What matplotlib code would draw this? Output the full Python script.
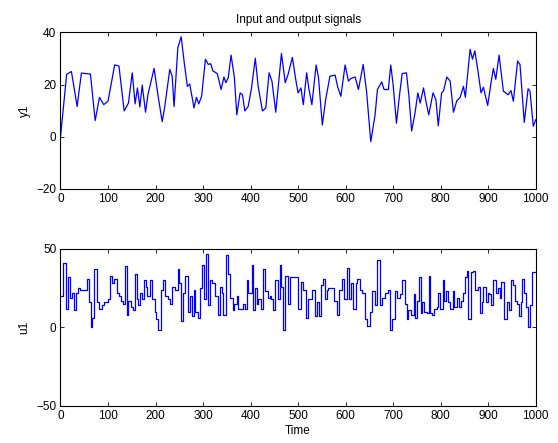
import matplotlib
matplotlib.use("Agg")
import matplotlib.pyplot as plt

plt.rcParams["font.family"] = ["Liberation Sans", "DejaVu Sans"]
plt.rcParams["font.size"] = 8

# output signal y1 (time, value)
y_t = [0, 13, 23, 35, 44, 63, 73, 82, 91, 100, 114, 123, 134, 143, 151, 157,
       162, 167, 172, 179, 184, 197, 205, 214, 219, 230, 235, 239, 247, 254,
       260, 267, 272, 281, 286, 291, 297, 305, 311, 316, 321, 330, 338, 344,
       348, 353, 359, 366, 371, 378, 383, 388, 395, 402, 410, 416, 425, 432,
       439, 445, 453, 465, 473, 479, 488, 495, 500, 506, 511, 518, 523, 529,
       538, 543, 551, 558, 567, 578, 583, 590, 599, 606, 611, 620, 627, 637,
       644, 653, 662, 667, 676, 681, 690, 695, 700, 707, 714, 719, 728, 733,
       739, 746, 752, 757, 764, 769, 775, 784, 790, 795, 802, 806, 813, 820,
       827, 834, 841, 848, 852, 862, 867, 872, 878, 885, 890, 899, 906, 911,
       916, 923, 932, 942, 948, 953, 962, 967, 976, 984, 988, 995, 1000]
y_v = [0, 23.9, 25, 11.6, 24.4, 24, 6.2, 15.1, 12.3, 13.6, 27.5, 27.1, 9.9,
       12.9, 24.5, 12.6, 18.7, 11.4, 19.8, 9.4, 16.1, 26.2, 16.1, 5.8, 11,
       25.8, 23.2, 11.6, 34.2, 38.3, 29, 19.3, 20.2, 11, 15.1, 12.6, 15.5,
       29.7, 27.7, 28, 25.2, 24.2, 18.1, 22.9, 20.7, 22.6, 31.3, 22.6, 8.4,
       16.8, 16.1, 9.9, 11.6, 18.7, 30.1, 19.3, 9.9, 11, 24.5, 21.3, 9.4,
       31.9, 20.7, 23.9, 30.4, 22, 16.8, 18.7, 12.3, 24.5, 18.1, 12.3, 27.5,
       22.6, 4.5, 14.2, 23.2, 23.6, 19.3, 15.5, 27.5, 21.3, 22.3, 22.9, 18.1,
       27.7, 17.5, -1.9, 8.4, 18.1, 21, 18.1, 18.1, 27.5, 20, 5.2, 16.8, 24.2,
       24.5, 16.1, 2.2, 9, 16.8, 12.9, 18.7, 13.6, 8.4, 16.8, 14.2, 4.2, 16.8,
       17.5, 22.9, 21.3, 9.4, 13.8, 15.1, 19.3, 15.1, 33.5, 29.7, 32.9, 25.8,
       16.8, 19, 12, 20.7, 26.2, 22, 31.3, 17.5, 16.1, 17.7, 13.6, 29, 27.7,
       5.5, 18.4, 17.5, 4, 6.5]

# input signal u1, piecewise constant: switch times and held values
u_t = [0, 6, 11, 15, 19, 24, 28, 32, 36, 41, 55, 60, 64, 67, 71, 76, 80, 87,
       92, 99, 104, 109, 113, 118, 123, 127, 132, 136, 139, 143, 148, 153,
       157, 160, 164, 168, 172, 176, 179, 183, 188, 192, 198, 202, 206, 212,
       216, 220, 226, 230, 235,
       241, 247, 249, 254, 258, 263, 268, 273, 276, 280, 284, 289, 294, 297,
       303, 306, 310, 315, 318, 325, 331, 336, 339, 343, 348, 352, 357, 362,
       366, 371, 374, 385, 388, 392, 395, 402, 406, 409, 413, 416, 423, 427,
       430, 436, 441, 444, 448, 451, 457, 462, 465, 469, 472, 478, 483,
       488, 499, 506, 511, 516, 520, 530, 536, 539, 544, 548, 553, 557, 560,
       564, 576, 581, 586, 592, 597, 602, 607, 611, 616, 621, 625, 630, 635,
       641, 646, 651, 656, 662, 667, 672, 677, 682, 689, 693, 698, 703, 708,
       714, 719, 724, 729, 732, 738, 743,
       747, 750, 754, 759, 761, 766, 771, 775, 778, 782, 787, 792, 795, 799,
       804, 808, 811, 815, 820, 825, 829, 834, 839, 843, 848, 851, 855, 858,
       864, 869, 872, 878, 883, 886, 890, 895, 899, 902, 906, 911, 916, 920,
       925, 928, 934, 939, 944, 948, 953, 956, 960, 965, 969, 972, 976, 979,
       983, 988, 993]
u_v = [20, 41, 12, 32, 19, 22, 11, 22, 25, 24, 31, 16, 0, 6, 37, 16, 12, 14,
       16, 18, 33, 28, 31, 22, 20, 17, 15, 39, 8, 17, 13, 11, 34, 18, 14, 22,
       18, 30, 26, 20, 30, 18, 10, 5, -2, 24, 30, 20, 18, 15, 26,
       24, 37, 28, 4, 22, 33, 10, 20, 7, 24, 10, 6, 25, 40, 18, 47, 14, 30,
       28, 20, 8, 26, 22, 8, 46, 34, 19, 11, 15, 20, 12, 15, 12, 30, 22, 40,
       11, 25, 15, 18, 12, 37, 23, 19, 20, 18, 11, 30, 18, 40, 26, -2, 33, 15,
       32,
       32, 12, 29, 24, 6, 18, 24, 7, 16, 7, 27, 31, 18, 24, 25, 17, 8, 24, 31,
       18, 38, 18, 28, 12, 28, 31, 24, 22, 5, 1, 10, 23, 14, 43, 14, 19, 22,
       24, -2, 5, 23, 19, 21, 30, 15, 5, 11, 8, 21,
       6, 17, 32, 9, 16, 10, 9, 33, 9, 8, 12, 13, 22, 12, 30, 17, 23, 16, 12,
       23, 13, 19, 13, 17, 22, 32, 36, 5, 35, 36, 24, 26, 9, 16, 26, 16, 22,
       21, 14, 30, 22, 25, 19, 29, 5, 16, 11, 30, 27, 17, 15, 7, 16, 31, 22,
       13, 0, 14, 35]

x_ticks = list(range(0, 1001, 100))
blue = "#0000ff"


def style(ax):
    ax.set_xlim(0, 1000)
    ax.set_xticks(x_ticks)
    ax.tick_params(direction="in", top=True, right=True, length=3,
                   width=0.6, labelsize=8.5, pad=3)
    for sp in ax.spines.values():
        sp.set_linewidth(0.8)


fig = plt.figure(figsize=(5.58, 4.43), dpi=100)
ax1 = fig.add_axes([0.1084, 0.5734, 0.8516, 0.3536])
ax2 = fig.add_axes([0.1084, 0.0842, 0.8516, 0.3538])

ax1.plot(y_t, y_v, color=blue, linewidth=0.9)
style(ax1)
ax1.set_ylim(-20, 40)
ax1.set_yticks([-20, 0, 20, 40])
ax1.set_ylabel("y1", fontsize=8.5)
ax1.set_title("Input and output signals", fontsize=8.5, pad=7)

ax2.step(u_t + [1000], u_v + [u_v[-1]], where="post", color=blue,
         linewidth=0.9)
style(ax2)
ax2.set_ylim(-50, 50)
ax2.set_yticks([-50, 0, 50])
ax2.set_ylabel("u1", fontsize=8.5)
ax2.set_xlabel("Time", fontsize=8.5, labelpad=2)

fig.savefig("out.png", dpi=100)
